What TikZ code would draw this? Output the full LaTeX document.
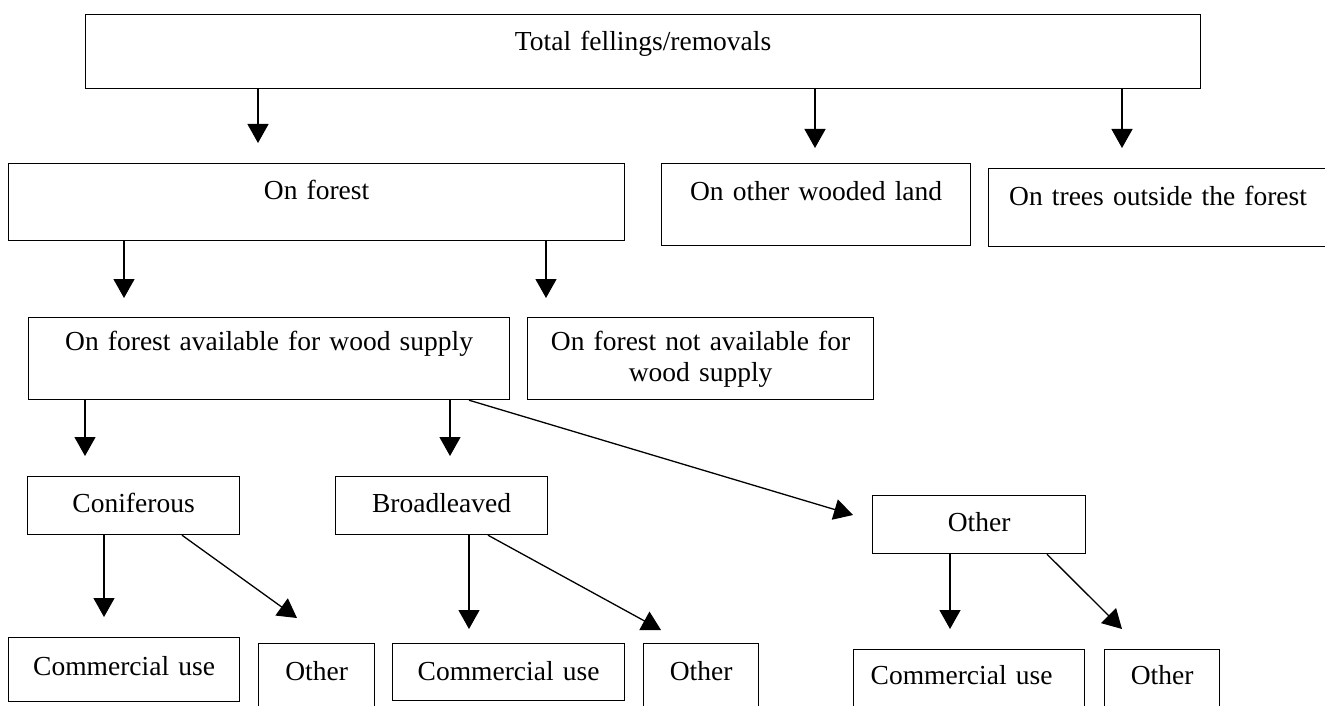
\documentclass[tikz,border=0pt]{standalone}
\usepackage{fontspec}
\setmainfont{Liberation Serif}
\usetikzlibrary{arrows.meta}
\tikzset{
  bx/.style={draw=black, line width=1.2pt, anchor=north west, inner sep=0pt,
    align=center, font=\fontsize{27.5}{31}\selectfont},
  arr/.style={line width=1.3pt, -{Triangle[length=19pt,width=21pt]}}
}
% [opts]{name}{left}{top}{right}{bottom}{baseline}{text}
\newcommand\fbx[8][]{%
  \pgfmathsetmacro\bw{#5-#3}%
  \pgfmathsetmacro\bth{#7-#4}%
  \pgfmathsetmacro\btd{#6-#7}%
  \node[bx,text width=\bw pt,text height=\bth pt,text depth=\btd pt,#1] (#2) at (#3,#4) {#8};%
}
\begin{document}
\begin{tikzpicture}[x=1pt,y=-1pt]
\clip (0,0) rectangle (1325,706);
\fill[white] (0,0) rectangle (1325,706);

% boxes
\fbx{top}{85}{14}{1200}{88}{50}{Total fellings/removals}
\fbx{forest}{8}{163}{624}{240}{199}{On forest}
\fbx{owl}{661}{163}{970}{245}{200}{On other wooded land}
\fbx{tof}{988}{168}{1327}{246}{205}{On trees outside the forest}
\fbx{avail}{28}{317}{509}{399}{350}{On forest available for wood supply}
\fbx{navail}{527}{317}{873}{399}{350}{On forest not available for\\wood supply}
\fbx{conif}{27}{476}{239}{534}{512}{Coniferous}
\fbx{broad}{335}{476}{547}{534}{512}{Broadleaved}
\fbx{othm}{872}{495}{1085}{553}{531}{Other}
\fbx{cu1}{8}{637}{239}{701}{675}{Commercial use}
\fbx{ot1}{258}{643}{374}{712}{680}{Other}
\fbx{cu2}{392}{643}{624}{700}{680}{Commercial use}
\fbx{ot2}{643}{643}{758}{712}{680}{Other}
\fbx{cu3}{853}{649}{1084}{712}{684}{\hspace*{-15pt}Commercial use}
\fbx{ot3}{1104}{649}{1219}{712}{684}{Other}

% arrow tips
\coordinate (t1) at (258,143);
\coordinate (t2) at (815,148);
\coordinate (t3) at (1122,148);
\coordinate (t4) at (124,298);
\coordinate (t5) at (546,298);
\coordinate (t6) at (85,456);
\coordinate (t7) at (450,456);
\coordinate (t8) at (853,515);
\coordinate (t9) at (104,617);
\coordinate (t10) at (297,618);
\coordinate (t11) at (469,629);
\coordinate (t12) at (661,630);
\coordinate (t13) at (950,629);
\coordinate (t14) at (1122,629);

% connectors
\draw[arr] (top.south -| t1) -- (t1);
\draw[arr] (top.south -| t2) -- (t2);
\draw[arr] (top.south -| t3) -- (t3);
\draw[arr] (forest.south -| t4) -- (t4);
\draw[arr] (forest.south -| t5) -- (t5);
\draw[arr] (avail.south -| t6) -- (t6);
\draw[arr] (avail.south -| t7) -- (t7);
\draw[arr] ([xshift=441pt]avail.south west) -- (t8);
\draw[arr] (conif.south -| t9) -- (t9);
\draw[arr] ([xshift=155pt]conif.south west) -- (t10);
\draw[arr] (broad.south -| t11) -- (t11);
\draw[arr] ([xshift=153pt]broad.south west) -- (t12);
\draw[arr] (othm.south -| t13) -- (t13);
\draw[arr] ([xshift=175pt]othm.south west) -- (t14);
\end{tikzpicture}
\end{document}
